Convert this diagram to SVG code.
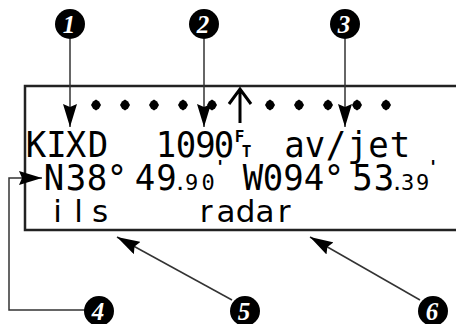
<svg xmlns="http://www.w3.org/2000/svg" width="456" height="324" viewBox="0 0 456 324">
<style>
.big{font-family:"DejaVu Sans Mono",monospace;font-size:34px;fill:#000;text-anchor:middle}
.sm{font-family:"DejaVu Sans Mono",monospace;font-size:22px;fill:#000;text-anchor:middle}
.ap{font-family:"DejaVu Sans Mono",monospace;font-size:17px;font-weight:bold;fill:#000;text-anchor:middle}
.tiny{font-family:"DejaVu Sans Mono",monospace;font-size:16px;font-weight:bold;fill:#000;text-anchor:middle}
.low{font-family:"DejaVu Sans",sans-serif;font-size:31px;fill:#000;text-anchor:middle}
.num{font-family:"Liberation Serif",serif;font-size:25px;font-weight:bold;font-style:italic;fill:#fff;text-anchor:middle}
.circ{fill:#000}
.lead{fill:none;stroke:#333;stroke-width:1.5}
</style>
<defs>
<marker id="ah" markerUnits="userSpaceOnUse" markerWidth="24" markerHeight="14" refX="23" refY="7" orient="auto">
<path d="M0,0 L23,7 L0,14 L3,7 z" fill="#000"/>
</marker>
<path id="dot" d="M0,-5.5 L3,-3.5 L5,0 L3,3.5 L0,5.5 L-3,3.5 L-5,0 L-3,-3.5 z" fill="#000"/>
</defs>
<g id="display">
<path d="M460,86 H25 V230 H460" fill="none" stroke="#222" stroke-width="2.5"/>
<g id="dots">
<use href="#dot" x="96" y="105"/><use href="#dot" x="125" y="105"/><use href="#dot" x="154" y="105"/><use href="#dot" x="183" y="105"/><use href="#dot" x="212" y="105"/>
<use href="#dot" x="270" y="105"/><use href="#dot" x="299" y="105"/><use href="#dot" x="328" y="105"/><use href="#dot" x="357" y="105"/><use href="#dot" x="386" y="105"/>
</g>
<path d="M240,89 V123 M229,104 L240,89 L251,104" fill="none" stroke="#000" stroke-width="3"/>
<g transform="scale(1,1.06)">
<text class="big" x="36 56.5 76 98" y="148.1">KIXD</text>
<text class="big" x="166 186 205.5 224" y="148.1">1090</text>
<text class="big" x="294.5 315 336 357.5 378.5 400" y="148.1">av/jet</text>
<text class="big" x="54 76 97 117" y="179.2">N38°</text>
<text class="big" x="145 166.5" y="179.2">49</text>
<text class="big" x="253 273 293.5 314 334" y="179.2">W094°</text>
<text class="big" x="362.5 384" y="179.2">53</text>
</g>
<text class="tiny" x="239.5" y="141.5">F</text>
<text class="tiny" x="246.5" y="157">T</text>
<text class="sm" x="180 191.5 208" y="190">.90</text>
<text class="ap" x="220" y="172.5">'</text>
<text class="sm" x="397 407.5 422.5" y="190">.39</text>
<text class="ap" x="433" y="172.5">'</text>
<text class="low" x="57.5 78.5 100" y="222">ils</text>
<text class="low" x="206 226 245.5 265 284" y="222">radar</text>
</g>
<g id="connectors">
<line class="lead" x1="70" y1="39" x2="70" y2="127" marker-end="url(#ah)"/>
<line class="lead" x1="204" y1="39" x2="204" y2="127" marker-end="url(#ah)"/>
<line class="lead" x1="345" y1="39" x2="345" y2="127" marker-end="url(#ah)"/>
<path class="lead" d="M85,310 H9 V178 H42" marker-end="url(#ah)"/>
<line class="lead" x1="232" y1="300" x2="117" y2="237" marker-end="url(#ah)"/>
<line class="lead" x1="420" y1="300" x2="310" y2="237" marker-end="url(#ah)"/>
</g>
<g id="c1"><circle class="circ" cx="70" cy="24" r="15"/><text class="num" x="69" y="33">1</text></g>
<g id="c2"><circle class="circ" cx="204" cy="24" r="15"/><text class="num" x="203" y="33">2</text></g>
<g id="c3"><circle class="circ" cx="345" cy="24" r="15"/><text class="num" x="344" y="33">3</text></g>
<g id="c4"><circle class="circ" cx="99" cy="311" r="15"/><text class="num" x="98" y="319.5">4</text></g>
<g id="c5"><circle class="circ" cx="245" cy="311" r="15"/><text class="num" x="244" y="319.5">5</text></g>
<g id="c6"><circle class="circ" cx="433" cy="311" r="15"/><text class="num" x="432" y="319.5">6</text></g>
</svg>
